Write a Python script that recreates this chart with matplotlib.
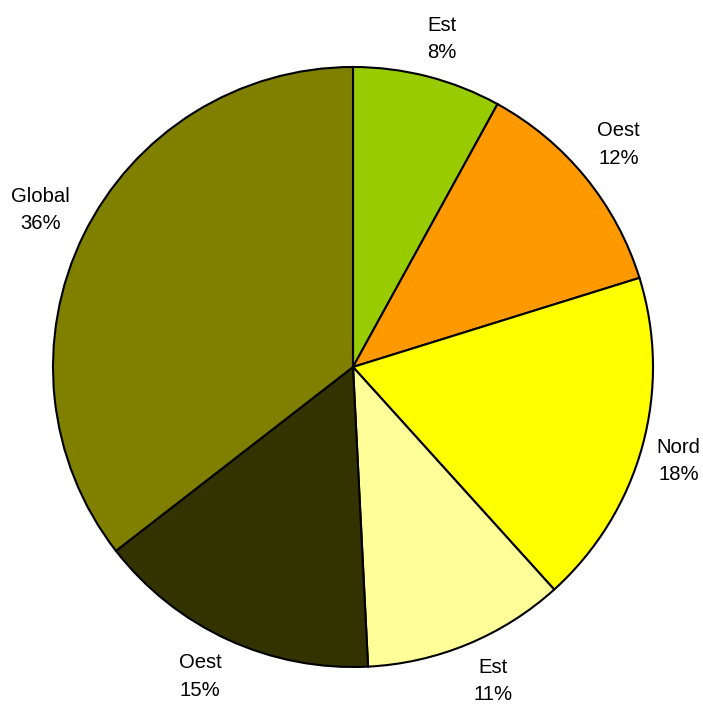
import matplotlib
matplotlib.use("Agg")
import matplotlib.pyplot as plt
import numpy as np

labels = ["Est", "Oest", "Nord", "Est", "Oest", "Global"]
shares = [8.0, 12.2, 18.1, 10.9, 15.3, 35.5]
colors = ["#99CC00", "#FF9900", "#FFFF00", "#FFFF99", "#333300", "#808000"]

W, H, DPI = 703, 706, 100
CX, CY, R = 353, 367, 300   # pie centre and radius in pixels

fig = plt.figure(figsize=(W / DPI, H / DPI), dpi=DPI)
fig.patch.set_facecolor("white")
ax = fig.add_axes([0, 0, 1, 1])

wedges, _ = ax.pie(
    shares, colors=colors, startangle=90, counterclock=False, radius=1.0,
    wedgeprops=dict(edgecolor="black", linewidth=1.5),
)

ax.set_xlim(-CX / R, (W - CX) / R)
ax.set_ylim(-(H - CY) / R, CY / R)
ax.set_aspect("auto")
ax.axis("off")

# labels sit just outside the rim, pushed outward by their own box size
renderer = fig.canvas.get_renderer()
for w, lab, v in zip(wedges, labels, shares):
    th = np.deg2rad((w.theta1 + w.theta2) / 2)
    ux, uy = np.cos(th), np.sin(th)
    t = ax.text(1.05 * ux, 1.05 * uy, f"{lab}\n{round(v)}%", fontsize=14.6,
                family=["Liberation Sans", "DejaVu Sans"], ha="center",
                va="center", linespacing=1.55, color="black")
    bb = t.get_window_extent(renderer)
    dx = bb.width / 2 * np.clip(3.0 * ux, -1, 1) / R
    dy = bb.height / 2 * np.clip(1.8 * uy, -1, 1) / R
    t.set_position((1.05 * ux + dx, 1.05 * uy + dy))

fig.savefig("out.png", dpi=DPI, facecolor="white")
